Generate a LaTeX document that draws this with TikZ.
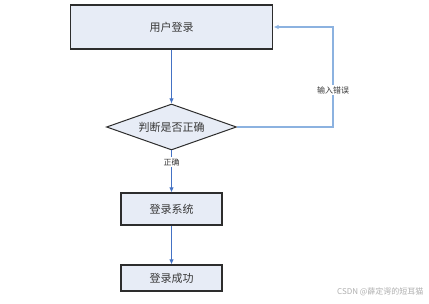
\documentclass[tikz,border=0pt]{standalone}
\usepackage{fontspec}
\newfontfamily\cjk{Noto Sans CJK SC}
\usepackage{xcolor}
\usepackage{tikz}
\usetikzlibrary{arrows.meta,shapes.geometric}
\definecolor{figline}{RGB}{45,45,45}
\definecolor{figtext}{RGB}{55,55,55}
\definecolor{figpanel}{RGB}{231,236,246}
\definecolor{figflow}{RGB}{68,114,196}
\definecolor{figback}{RGB}{140,178,224}
\definecolor{figmark}{RGB}{175,175,175}
\tikzset{
  stepbox/.style ={draw=figline, fill=figpanel, line width=1.1pt, text=figtext, font=\cjk\fontsize{11}{13}\selectfont, inner sep=0pt},
  judge/.style   ={diamond, aspect=2.8, draw=figline, fill=figpanel, line width=1pt, minimum width=130pt, minimum height=46pt, inner sep=0pt, text=figtext, font=\cjk\fontsize{11}{13}\selectfont},
  flow/.style    ={draw=figflow, line width=0.9pt, -{Latex[length=5pt,width=4.5pt]}},
  back/.style    ={draw=figback, line width=1.1pt, -{Latex[length=5pt,width=4.5pt]}, shorten >=0.5pt},
  tag/.style     ={font=\cjk\fontsize{8}{10}\selectfont, text=figtext, fill=white, inner sep=1.5pt},
}
\begin{document}
\begin{tikzpicture}[x=1pt,y=-1pt]
  \useasboundingbox[fill=white] (0,0) rectangle (429,304);
  \node[stepbox, minimum width=202pt, minimum height=44pt] (login) at (171.5,27) {用户登录};
  \node[judge] (check) at (171.5,127) {判断是否正确};
  \node[stepbox, minimum width=101pt, minimum height=32pt] (enter) at (171.5,209) {登录系统};
  \node[stepbox, minimum width=101pt, minimum height=26pt] (done) at (171.5,278) {登录成功};
  \coordinate (bend) at (333,127);
  \draw[flow] (login) -- (check);
  \draw[flow] (check) -- (enter) node[tag, pos=0.28] {正确};
  \draw[flow] (enter) -- (done);
  \draw[back] (check.east) -- (bend) |- (login.east) node[tag, pos=0.185] {输入错误};
  \node[font=\cjk\fontsize{8}{10}\selectfont, text=figmark, anchor=east] (mark) at (427,292) {CSDN @薛定谔的短耳猫};
\end{tikzpicture}
\end{document}
